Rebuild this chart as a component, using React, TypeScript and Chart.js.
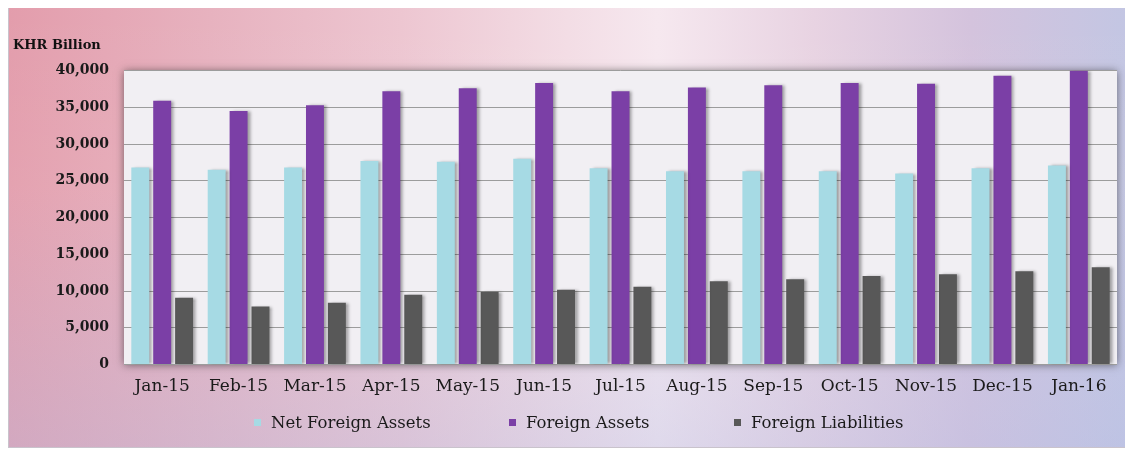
import React, { useEffect, useRef } from "react";
import { Chart, registerables } from "chart.js";

Chart.register(...registerables);

const categories = ["Jan-15", "Feb-15", "Mar-15", "Apr-15", "May-15", "Jun-15", "Jul-15", "Aug-15", "Sep-15", "Oct-15", "Nov-15", "Dec-15", "Jan-16"];
const netForeignAssets = [26800, 26500, 26800, 27700, 27600, 28000, 26700, 26300, 26300, 26300, 26000, 26700, 27100];
const foreignAssets = [35900, 34500, 35300, 37200, 37600, 38300, 37200, 37700, 38000, 38300, 38200, 39300, 40000];
const foreignLiabilities = [9100, 7900, 8400, 9500, 9900, 10200, 10600, 11350, 11600, 12050, 12300, 12700, 13250];
const seriesNames = ["Net Foreign Assets", "Foreign Assets", "Foreign Liabilities"];
const seriesColors = ["#a6dae4", "#7b3fa6", "#585858"];

const plotBg = {
  id: "plotBg",
  beforeDraw(chart: any) {
    const { ctx, chartArea } = chart;
    ctx.save();
    ctx.shadowColor = "rgba(40,40,40,0.6)";
    ctx.shadowBlur = 8;
    ctx.fillStyle = "#f1eff3";
    ctx.fillRect(chartArea.left, chartArea.top, chartArea.right - chartArea.left, chartArea.bottom - chartArea.top);
    ctx.restore();
  },
  beforeDatasetsDraw(chart: any) {
    const ctx = chart.ctx;
    ctx.save();
    ctx.shadowColor = "rgba(0,0,0,0.35)";
    ctx.shadowBlur = 3;
    ctx.shadowOffsetX = 3;
    ctx.shadowOffsetY = 0;
  },
  afterDatasetsDraw(chart: any) {
    chart.ctx.restore();
  },
};

const legendLefts = [245, 500, 725];

export default function App() {
  const ref = useRef<HTMLCanvasElement>(null);
  useEffect(() => {
    const chart = new Chart(ref.current!, {
      type: "bar",
      data: {
        labels: categories,
        datasets: [netForeignAssets, foreignAssets, foreignLiabilities].map((d, i) => ({
          label: seriesNames[i],
          data: d,
          backgroundColor: seriesColors[i],
          borderWidth: 0,
          categoryPercentage: 0.86,
          barPercentage: 0.82,
        })),
      },
      options: {
        animation: false,
        responsive: true,
        maintainAspectRatio: false,
        layout: { padding: { left: 4, right: 10, top: 0, bottom: 46 } },
        plugins: {
          legend: { display: false },
          tooltip: { enabled: false },
          title: {
            display: true,
            text: "KHR Billion",
            align: "start",
            color: "#111",
            font: { family: "DejaVu Serif", weight: "bold", size: 13 },
            padding: { top: 32, bottom: 17 },
          },
        },
        scales: {
          x: {
            grid: { display: false },
            border: { display: false },
            ticks: {
              color: "#1a1a1a",
              font: { family: "DejaVu Serif", size: 17 },
              padding: 4,
              maxRotation: 0,
            },
          },
          y: {
            min: 0,
            max: 40000,
            afterFit: (scale: any) => {
              scale.width = 111;
            },
            grid: { color: "#9c9c9c", drawTicks: false },
            border: { display: false },
            ticks: {
              stepSize: 5000,
              padding: 15,
              color: "#1a1a1a",
              font: { family: "DejaVu Serif", weight: "bold", size: 14 },
              callback: (v: any) => Number(v).toLocaleString("en-US"),
            },
          },
        },
      },
      plugins: [plotBg],
    });
    return () => chart.destroy();
  }, []);

  const legendItem = (i: number) => (
    <div
      key={i}
      style={{
        position: "absolute",
        left: legendLefts[i],
        top: 407,
        display: "flex",
        alignItems: "center",
        fontFamily: "DejaVu Serif",
        fontSize: 16.5,
        color: "#1a1a1a",
        whiteSpace: "nowrap",
      }}
    >
      <span style={{ width: 7, height: 7, background: seriesColors[i], marginRight: 10, display: "inline-block" }} />
      <span>{seriesNames[i]}</span>
    </div>
  );

  return (
    <div
      style={{
        position: "relative",
        width: 1120,
        height: 443,
        marginTop: -3,
        boxSizing: "border-box",
        border: "1px solid #c9c3cc",
        background:
          "linear-gradient(to bottom, rgba(255,255,255,0) 0%, rgba(255,255,255,0.05) 40%, rgba(180,190,230,0.35) 100%), linear-gradient(to right, #e39dac 0%, #e7b2bf 18%, #edc6d1 35%, #f3dde5 50%, #f6e8ef 58%, #e8d3e2 72%, #d4c3dd 86%, #c3c6e3 100%)",
      }}
    >
      <canvas ref={ref} style={{ position: "absolute", left: 0, top: 0 }} />
      {[0, 1, 2].map(legendItem)}
    </div>
  );
}
